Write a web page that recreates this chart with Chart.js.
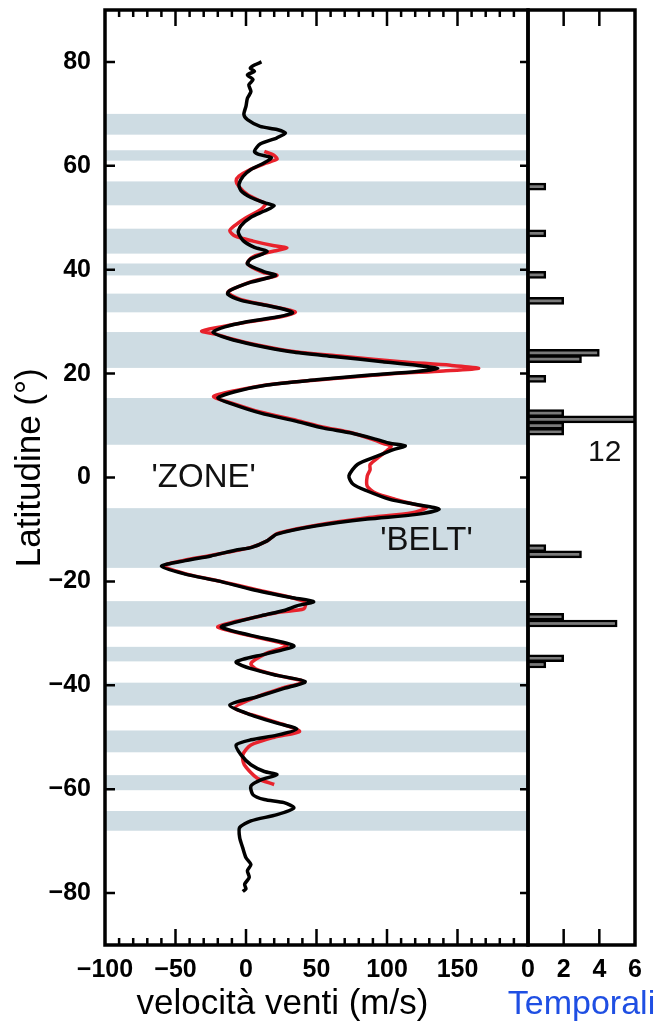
<!DOCTYPE html>
<html>
<head>
<meta charset="utf-8">
<script src="https://cdn.jsdelivr.net/npm/chart.js@4.4.0/dist/chart.umd.min.js"></script>
<style>
  html, body { margin: 0; padding: 0; background: #fff; }
  #wrap { position: relative; width: 668px; height: 1025px; overflow: hidden; }
  canvas { position: absolute; top: 0; }
  #main { left: 0; }
  #side { left: 480px; }
</style>
</head>
<body>
<div id="wrap">
  <canvas id="main" width="540" height="1025"></canvas>
  <canvas id="side" width="188" height="1025"></canvas>
</div>
<script>
//-----------------------------------------------------------------------------
// Data
//-----------------------------------------------------------------------------

// black profile (north -> south)
var blackLat = [80.0, 79.4, 78.8, 78.2, 77.5, 76.6, 75.6, 74.3, 73.0, 71.5, 69.9, 68.9, 67.6, 67.0, 66.3, 65.4,
  64.2, 62.8, 62.2, 61.6, 60.6, 59.3, 58.0, 56.4, 55.2, 53.9, 52.9, 52.3, 51.3, 50.1, 48.5, 47.2, 45.6, 44.3,
  43.5, 42.1, 41.1, 39.6, 38.9, 37.6, 36.0, 35.3, 34.1, 33.1, 32.4, 31.7, 30.9, 29.9, 29.0, 28.0, 26.8, 25.5,
  24.2, 23.3, 22.3, 21.6, 21.0, 20.4, 19.7, 18.8, 17.8, 16.5, 15.3, 14.0, 12.4, 10.8, 9.5, 8.6, 7.3, 6.6, 6.1,
  5.4, 4.1, 2.5, 0.3, -1.3, -2.6, -4.2, -5.2, -6.1, -7.1, -8.0, -9.3, -10.9, -12.2, -13.5, -13.9, -15.1, -16.0,
  -17.1, -18.6, -19.9, -21.5, -23.1, -23.9, -24.7, -25.6, -26.6, -27.9, -28.8, -30.4, -32.4, -33.9, -35.5,
  -36.8, -38.1, -39.3, -40.6, -42.2, -43.8, -45.7, -47.3, -48.4, -49.6, -50.5, -51.5, -53.4, -55.3, -56.6,
  -57.2, -58.2, -59.4, -61.1, -62.0, -62.6, -63.6, -64.9, -66.1, -67.4, -69.3, -71.3, -73.2, -74.5, -75.7,
  -77.0, -78.3, -79.2, -79.7];
var blackU = [11, 6, 3, 6, 1, 5, 2, 3.5, 1, 0, -1.5, 1, 10, 22, 28, 22,
  10, 6, 9, 18, 13, 3.5, -2, -5, -3.5, 3.5, 13, 20, 13, 3.5, -3.5, -5.5, -2, 6,
  15, 3.5, 1, 13, 21, 3.5, -11.5, -13, -3.5, 15, 27, 33, 22, -1, -15, -23.5, -13, 6,
  32, 62, 97, 121, 136, 121, 86, 50, 15, -8, -20, -8, 10.5, 36, 55, 74, 93, 102, 113,
  105, 93, 79, 73, 76, 86, 102, 121, 137, 121, 86, 50, 22, 15, 3.5, -6, -25, -43,
  -60, -43, -20, 3.5, 32, 48, 36, 27, 11, -8, -17.5, 3.5, 34, 15, -7,
  3.5, 22, 42, 27, 8, -11.5, 3.5, 22, 36, 22, 3.5, -7, -3.5, 3.5, 13,
  22, 10.5, 3.5, 5, 13, 27, 34, 22, 3.5, -4.5, -4.5, -2.3, 0, 3.5, 1,
  2.3, -1, 0, -2.3];

// red profile
var redLat = [62.8, 62.0, 61.3, 60.5, 59.3, 58.0, 57.1, 56.0, 54.5, 53.2, 52.7, 51.5, 50.0, 48.5, 47.5, 46.5,
  45.5, 44.6, 44.2, 43.6, 42.5, 41.2, 39.5, 38.9, 37.8, 36.2, 35.6, 34.3, 33.2, 32.4, 31.8, 30.9, 29.9, 29.0,
  28.2, 27.5, 26.8, 25.5, 24.2, 23.3, 22.3, 21.6, 21.0, 20.5, 19.9, 19.0, 18.0, 16.8, 15.6, 14.3, 12.6, 11.0,
  9.7, 8.8, 7.5, 6.5, 6.0, 5.2, 4.1, 2.5, 1.5, 0.3, -1.7, -3.0, -4.2, -5.2, -5.8, -6.8, -7.8, -9.2, -10.8,
  -12.2, -13.5, -15.0, -16.0, -17.0, -18.6, -20.0, -21.5, -23.1, -24.0, -25.3, -25.9, -26.7, -27.9, -28.8,
  -30.4, -32.3, -33.9, -35.8, -37.0, -38.2, -39.3, -40.6, -42.5, -44.4, -46.0, -47.5, -48.9, -50.0, -51.5,
  -53.4, -55.3, -57.9, -59.1];
var redU = [13, 20, 22, 14, 3, -5, -7, -5, 1, 10, 14, 10, 0, -8, -11.5, -8,
  5, 20, 29, 20, 5, 1, 12, 22, 5, -10, -13, -4, 14, 28, 35, 24, 0, -18,
  -31.5, -20, -12, 8, 35, 70, 110, 145, 165, 140, 100, 60, 20, -6, -23, -10, 10, 36,
  55, 72, 88, 98, 103, 100, 95, 88, 88, 86, 86, 92, 106, 120, 128, 118, 85, 50, 22,
  15, 3, -25, -45, -58, -42, -18, 6, 32, 42, 41, 24, 10, -10, -20,
  2, 29, 14, 3.5, 8, 24, 41, 25, 5, -8, 8, 26, 38, 20, 3.5,
  -2.3, -1.2, 8, 20];

// storms per latitude bin
var stormLat = [56, 47, 39, 34, 24, 22.8, 19, 12.4, 11.2, 10, 8.8, -13.6, -14.8, -26.8, -28.1, -34.8, -36];
var stormCount = [1, 1, 1, 2, 4, 3, 1, 2, 12, 2, 2, 1, 3, 2, 5, 2, 1];

// shaded bands (lat from, lat to)
var bandLat = [[70, 66], [63, 61], [57, 52.4], [47.9, 43.1], [41.2, 38.9], [35.4, 31.8], [28, 21.1],
  [15.3, 6.3], [-5.9, -17.4], [-23.8, -28.7], [-32.6, -35.4], [-39.5, -43.9], [-48.7, -52.9],
  [-57.3, -60.2], [-64.2, -68]];

var latTicks = [-80, -60, -40, -20, 0, 20, 40, 60, 80];
var speedTicks = [-100, -50, 0, 50, 100, 150];
var stormTicks = [0, 2, 4, 6];

//-----------------------------------------------------------------------------
// Helpers
//-----------------------------------------------------------------------------

var FONT = "'Liberation Sans', Arial, Helvetica, sans-serif";
Chart.defaults.font.family = FONT;
Chart.defaults.color = '#000';

function pairs(xs, ys) {
  return ys.map(function(y, i) { return {x: xs[i], y: y}; });
}

function fmt(v) {
  return String(v).replace('-', '\u2212');
}

// axis with fixed size and no extra edge padding, so both panels line up
function fixSize(prop, size) {
  return function(s) {
    s[prop] = size;
    s.paddingTop = s.paddingBottom = s.paddingLeft = s.paddingRight = 0;
  };
}

// box around the plot, inward ticks, optional shaded bands and notes
function framePlugin(cfg) {
  return {
    id: 'frame',
    beforeDatasetsDraw: function(chart) {
      if (!cfg.bands) return;
      var a = chart.chartArea, ctx = chart.ctx, ys = chart.scales.y;
      ctx.save();
      ctx.fillStyle = 'rgb(206,220,227)';
      cfg.bands.forEach(function(b) {
        var y1 = ys.getPixelForValue(b[0]), y2 = ys.getPixelForValue(b[1]);
        ctx.fillRect(a.left, y1, a.right - a.left, y2 - y1);
      });
      ctx.restore();
    },
    afterDraw: function(chart) {
      var a = chart.chartArea, ctx = chart.ctx, xs = chart.scales.x, ys = chart.scales.y;
      ctx.save();
      ctx.strokeStyle = '#000';
      ctx.lineWidth = 2.5;
      ctx.beginPath();
      (cfg.xTicks || []).forEach(function(t) {
        var px = xs.getPixelForValue(t[0]);
        ctx.moveTo(px, a.top); ctx.lineTo(px, a.top + t[1]);
        ctx.moveTo(px, a.bottom); ctx.lineTo(px, a.bottom - t[1]);
      });
      (cfg.yTicks || []).forEach(function(v) {
        var py = ys.getPixelForValue(v);
        ctx.moveTo(a.left, py); ctx.lineTo(a.left + 10, py);
        ctx.moveTo(a.right, py); ctx.lineTo(a.right - 8, py);
      });
      ctx.stroke();
      ctx.lineWidth = 3.5;
      ctx.strokeRect(a.left, a.top, a.right - a.left, a.bottom - a.top);

      // notes, placed in data coordinates
      ctx.textAlign = 'center';
      ctx.textBaseline = 'middle';
      (cfg.notes || []).forEach(function(n) {
        ctx.font = n.font;
        ctx.fillStyle = '#111';
        ctx.fillText(n.text, xs.getPixelForValue(n.x), ys.getPixelForValue(n.y));
      });
      // axis caption wider than the narrow panel
      if (cfg.caption) {
        ctx.font = cfg.caption.font;
        ctx.fillStyle = cfg.caption.color;
        ctx.fillText(cfg.caption.text, (a.left + a.right) / 2, a.bottom + cfg.caption.dy);
      }
      ctx.restore();
    }
  };
}

//-----------------------------------------------------------------------------
// Main panel: wind speed vs latitude
//-----------------------------------------------------------------------------

var mainTicks = [];
for (var v = -90; v < 200; v += 10) {
  mainTicks.push([v, v % 50 === 0 ? 16 : 7]);
}

new Chart(document.getElementById('main'), {
  type: 'scatter',
  data: {
    datasets: [{
      data: pairs(blackU, blackLat),
      showLine: true,
      borderColor: '#000',
      borderWidth: 3.5,
      pointRadius: 0,
      tension: 0.25
    }, {
      data: pairs(redU, redLat),
      showLine: true,
      borderColor: '#e8222c',
      borderWidth: 3.5,
      pointRadius: 0,
      tension: 0.25
    }]
  },
  options: {
    responsive: false,
    animation: false,
    layout: {padding: {top: 10, right: 12, left: 0, bottom: 0}},
    plugins: {legend: {display: false}, tooltip: {enabled: false}},
    scales: {
      x: {
        type: 'linear', min: -100, max: 200,
        afterFit: fixSize('height', 80),
        afterBuildTicks: function(s) { s.ticks = speedTicks.map(function(t) { return {value: t}; }); },
        grid: {display: false, drawTicks: false},
        border: {display: false},
        ticks: {padding: 10, autoSkip: false, maxRotation: 0, font: {size: 25, weight: 'bold'}, callback: fmt},
        title: {display: true, text: 'velocità venti (m/s)\u00a0\u00a0\u00a0\u00a0\u00a0\u00a0\u00a0',
          font: {size: 35}, padding: {top: 0, bottom: 0}}
      },
      y: {
        type: 'linear', min: -90, max: 90,
        afterFit: fixSize('width', 105),
        afterBuildTicks: function(s) { s.ticks = latTicks.map(function(t) { return {value: t}; }); },
        grid: {display: false, drawTicks: false},
        border: {display: false},
        ticks: {padding: 14, font: {size: 25, weight: 'bold'}, callback: fmt},
        title: {display: true, text: '\u00a0\u00a0Latitudine (°)', font: {size: 35}, padding: {top: 9, bottom: 0}}
      }
    }
  },
  plugins: [framePlugin({
    bands: bandLat,
    xTicks: mainTicks,
    yTicks: latTicks,
    notes: [
      {text: "'ZONE'", x: -30, y: 0, font: '33px ' + FONT},
      {text: "'BELT'", x: 128, y: -12.3, font: '33px ' + FONT}
    ]
  })]
});

//-----------------------------------------------------------------------------
// Side panel: storm counts
//-----------------------------------------------------------------------------

new Chart(document.getElementById('side'), {
  type: 'bar',
  data: {
    datasets: [{
      data: pairs(stormCount, stormLat),
      backgroundColor: '#7a7a7a',
      borderColor: '#000',
      borderWidth: 2.5,
      barThickness: 7
    }]
  },
  options: {
    indexAxis: 'y',
    responsive: false,
    animation: false,
    layout: {padding: {top: 10, right: 33, left: 48, bottom: 0}},
    plugins: {legend: {display: false}, tooltip: {enabled: false}},
    scales: {
      x: {
        type: 'linear', min: 0, max: 6,
        afterFit: fixSize('height', 80),
        afterBuildTicks: function(s) { s.ticks = stormTicks.map(function(t) { return {value: t}; }); },
        grid: {display: false, drawTicks: false},
        border: {display: false},
        ticks: {padding: 10, autoSkip: false, maxRotation: 0, font: {size: 25, weight: 'bold'}}
      },
      y: {type: 'linear', min: -90, max: 90, offset: false, display: false}
    }
  },
  plugins: [framePlugin({
    xTicks: [[2, 16], [4, 16]],
    notes: [{text: '12', x: 4.3, y: 4.8, font: '300 30px ' + FONT}],
    caption: {text: 'Temporali', color: '#1f4fe3', font: '34px ' + FONT, dy: 60}
  })]
});
</script>
</body>
</html>
